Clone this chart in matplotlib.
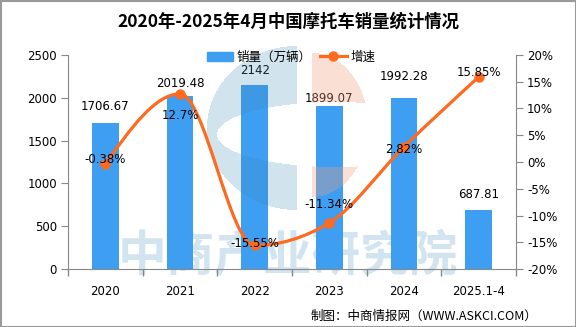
import numpy as np
import matplotlib
matplotlib.use('Agg')
from matplotlib import pyplot as plt
from matplotlib.path import Path
from matplotlib.patches import PathPatch, Patch, Rectangle
from matplotlib.lines import Line2D

plt.rcParams['font.family'] = ['DejaVu Sans', 'Noto Sans CJK SC']

# 数据
years = ["2020", "2021", "2022", "2023", "2024", "2025.1-4"]
sales = [1706.67, 2019.48, 2142, 1899.07, 1992.28, 687.81]
growth = [-0.38, 12.7, -15.55, -11.34, 2.82, 15.85]
growth_text = ["-0.38%", "12.7%", "-15.55%", "-11.34%", "2.82%", "15.85%"]

bar_color = "#3d9ef2"
line_color = "#ff6a1f"

# 标签偏移（像素）
bar_lab_dy = [16, 12, 15, 8, 22, 16]
pct_lab_dy = [5, -22, 2, 18, -3, 4]

fig = plt.figure(figsize=(5.76, 3.27), dpi=100)

# 背景水印文字
bg = fig.add_axes([0, 0, 1, 1], zorder=0)
bg.set_xlim(0, 576)
bg.set_ylim(327, 0)
bg.axis("off")
bg.text(288, 257, "中商产业研究院", ha="center", va="center", fontsize=35,
        fontweight="bold", color="#d2e4ef", family=["Noto Sans CJK SC"])
# 外框
bg.add_patch(Rectangle((0.5, 0.5), 575, 326, fill=False, ec="#9a9a9a", lw=1.5))

ax = fig.add_axes([68 / 576, 1 - 269.3 / 327, (516 - 68) / 576, (269.3 - 54.7) / 327], zorder=1)
ax.patch.set_alpha(0)
x = np.arange(len(years))
bars = ax.bar(x, sales, width=0.36, color=bar_color, zorder=2)
ax.set_xlim(-0.5, len(years) - 0.5)
ax.set_ylim(0, 2500)
ax.set_yticks(np.arange(0, 2501, 500))
ax.set_xticks(np.arange(-0.5, len(years), 1))
ax.set_xticklabels([])
ax.set_xticks(x, minor=True)
ax.set_xticklabels(years, minor=True)
ax.tick_params(axis="x", which="major", length=5, color="#888888", width=1)
ax.tick_params(axis="x", which="minor", length=0, pad=11, labelsize=8.5)
ax.tick_params(axis="y", length=5, color="#888888", pad=3, labelsize=8.5)
for s in ["top", "right"]:
    ax.spines[s].set_visible(False)
for s in ["left", "bottom"]:
    ax.spines[s].set_color("#888888")

for xi, v, dy in zip(x, sales, bar_lab_dy):
    ax.annotate(f"{v:g}", (xi, v), xytext=(0, dy), textcoords="offset pixels",
                ha="center", va="center", fontsize=8.5, zorder=5)

# 半透明 logo 叠加（像素网格上的遮罩）
logo = fig.add_axes([0, 0, 1, 1], zorder=1.5)
logo.axis("off")
logo.patch.set_alpha(0)
X, Y = np.meshgrid(np.arange(576) + 0.5, np.arange(327) + 0.5)
hole = ((X - 335) / 118) ** 2 + ((Y - 134.5) / 32.5) ** 2 < 1
blue = (((X - 297) / 90) ** 2 + ((Y - 128) / 82) ** 2 <= 1) & (X <= 297) & ~hole
pink = (((X - 312) / 56) ** 2 + ((Y - 125) / 72) ** 2 <= 1) & (X >= 312) & ~hole
img = np.zeros((327, 576, 4))
img[blue] = [0x3f / 255, 0x8b / 255, 0xb7 / 255, 0.24]
img[pink] = [0xf1 / 255, 0xa1 / 255, 0x7e / 255, 0.33]
logo.imshow(img, extent=(0, 576, 327, 0), interpolation="nearest", aspect="auto")
logo.set_xlim(0, 576)
logo.set_ylim(327, 0)

ax2 = ax.twinx()
ax2.set_zorder(2)
ax2.patch.set_alpha(0)
ax2.set_ylim(-20, 20)
ax2.set_yticks(np.arange(-20, 21, 5))
ax2.set_yticklabels([f"{v}%" for v in range(-20, 21, 5)])
ax2.tick_params(axis="y", length=5, color="#888888", pad=3, labelsize=8.5)
for s in ["top", "left", "bottom"]:
    ax2.spines[s].set_visible(False)
ax2.spines["right"].set_color("#888888")

# 单调平滑曲线
xf = x.astype(float)
yf = np.array(growth, dtype=float)
n = len(xf)
h = np.diff(xf)
sec = np.diff(yf) / h
tan = np.zeros(n)
for i in range(1, n - 1):
    s0, s1 = sec[i - 1], sec[i]
    p = (s0 * h[i] + s1 * h[i - 1]) / (h[i - 1] + h[i])
    tan[i] = (np.sign(s0) + np.sign(s1)) * min(abs(s0), abs(s1), 0.5 * abs(p))
tan[0] = (3 * sec[0] - tan[1]) / 2
tan[-1] = (3 * sec[-1] - tan[-2]) / 2
verts = [(xf[0], yf[0])]
codes = [Path.MOVETO]
for i in range(n - 1):
    d = h[i] / 3
    verts += [(xf[i] + d, yf[i] + tan[i] * d), (xf[i + 1] - d, yf[i + 1] - tan[i + 1] * d),
              (xf[i + 1], yf[i + 1])]
    codes += [Path.CURVE4] * 3
ax2.add_patch(PathPatch(Path(verts, codes), fill=False, ec=line_color, lw=2.3,
                        capstyle="round", joinstyle="round", zorder=3))
ax2.plot(x, growth, "o", color=line_color, ms=6.5, zorder=4)

for xi, v, s, dy in zip(x, growth, growth_text, pct_lab_dy):
    ax2.annotate(s, (xi, v), xytext=(0, dy), textcoords="offset pixels",
                 ha="center", va="center", fontsize=8.5, zorder=6)

fig.text(0.5, 1 - 22 / 327, "2020年-2025年4月中国摩托车销量统计情况", ha="center", va="center",
         fontsize=12.5, fontweight="bold", family=["Noto Sans CJK SC"])

handles = [Patch(color=bar_color),
           Line2D([], [], color=line_color, lw=2.3, marker="o", ms=6.5)]
fig.legend(handles, ["销量（万辆）", "增速"], loc="center", bbox_to_anchor=(0.505, 1 - 57 / 327),
           ncol=2, frameon=False, handlelength=2.1, handletextpad=0.3,
           columnspacing=0.7, prop={"family": ["Noto Sans CJK SC"], "size": 9})

fig.text(537 / 576, 1 - 316 / 327, "制图：中商情报网（WWW.ASKCI.COM）", ha="right", va="center",
         fontsize=9, family=["Noto Sans CJK SC", "DejaVu Sans"])

fig.savefig("out.png", dpi=100)
